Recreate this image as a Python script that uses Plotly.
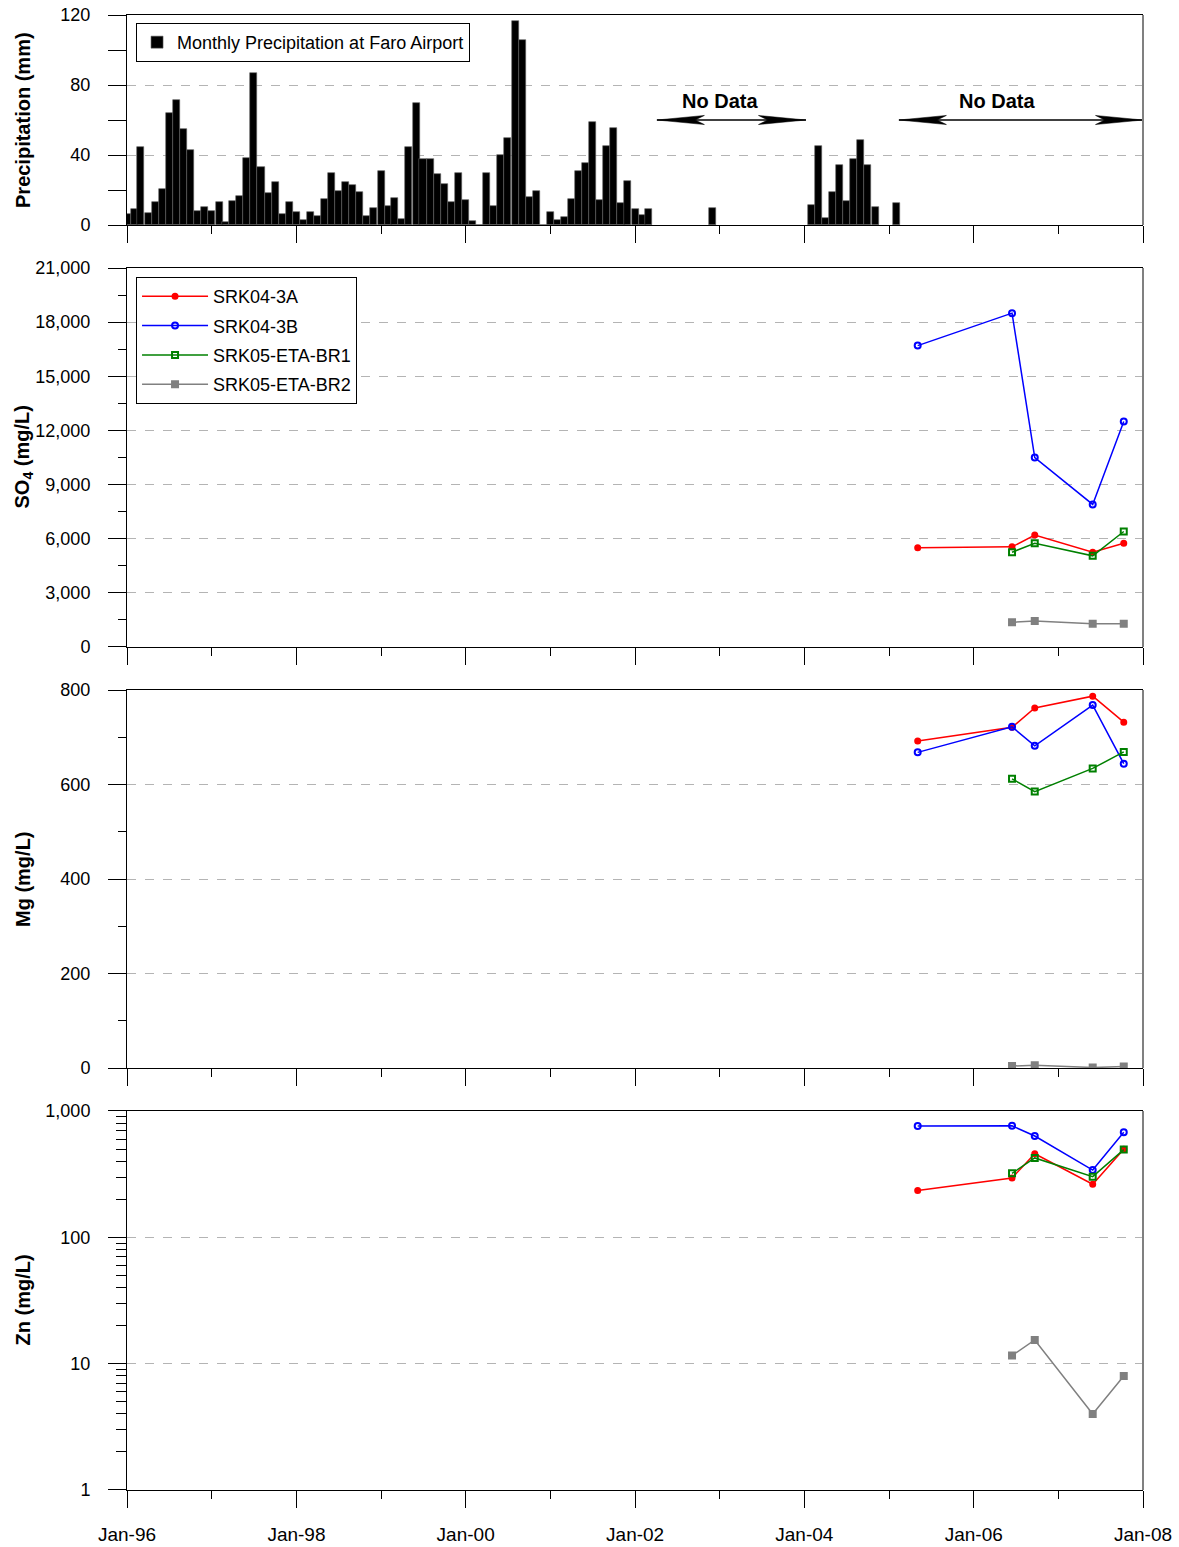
import pandas as pd
import plotly.graph_objects as go

# Monthly precipitation at Faro Airport (mm), Jan-96 onward; None = no record
precip_start = "1996-01-01"
precip_mm = [
    6.3, 9.1, 44.4, 7.0, 13.3, 20.4, 64.2, 71.2, 55.0, 42.9, 8.2, 10.5,      # 1996
    8.0, 13.0, 1.5, 13.5, 16.8, 38.5, 86.9, 33.3, 18.5, 24.6, 6.5, 13.0,     # 1997
    7.4, 2.9, 7.4, 5.1, 14.7, 29.7, 19.4, 24.4, 22.7, 18.9, 5.1, 9.9,        # 1998
    30.9, 10.7, 15.6, 3.6, 44.8, 69.9, 37.7, 37.7, 29.0, 23.4, 13.0, 29.5,   # 1999
    14.3, 2.1, 0.0, 29.5, 11.0, 40.0, 49.7, 116.8, 105.5, 16.2, 19.6, 0.0,   # 2000
    7.6, 2.9, 4.4, 14.7, 31.0, 35.4, 58.7, 14.3, 45.1, 55.2, 12.4, 25.1,     # 2001
    9.1, 5.9, 9.0, None, None, None, None, None, None, None, None, 9.5,      # 2002
    None, None, None, None, None, None, None, None, None, None, None, None,  # 2003
    None, 11.4, 45.1, 4.2, 18.9, 34.1, 13.7, 37.9, 48.8, 34.1, 10.1, None,   # 2004
    None, 12.6,                                                              # 2005
]
precip_dates = pd.date_range(precip_start, periods=len(precip_mm), freq="MS")

# "No Data" periods (start, end) and label positions
no_data_spans = [("2002-04-05", "2004-01-08"), ("2005-02-12", "2008-01-01")]
no_data_labels = ["2003-01-02", "2006-04-11"]

# groundwater sampling
dates_04 = ["2005-05-04", "2006-06-15", "2006-09-21", "2007-05-29", "2007-10-10"]
dates_05 = ["2006-06-15", "2006-09-21", "2007-05-29", "2007-10-10"]

so4_3a = [5500, 5550, 6200, 5250, 5750]
so4_3b = [16700, 18500, 10500, 7900, 12500]
so4_br1 = [5250, 5750, 5050, 6400]
so4_br2 = [1370, 1440, 1290, 1290]

mg_3a = [692, 721, 762, 787, 732]
mg_3b = [668, 722, 682, 768, 644]
mg_br1 = [612, 585, 634, 669]
mg_br2 = [4, 6, 1, 3]

zn_3a = [235, 295, 459, 263, 497]
zn_3b = [761, 764, 634, 341, 678]
zn_br1 = [321, 425, 302, 495]
zn_br2 = [11.6, 15.4, 4.0, 8.0]

FONT = "Liberation Sans, Arial, sans-serif"

series = [
    ("SRK04-3A", "#ff0000", "circle", 5, dates_04, so4_3a, mg_3a, zn_3a),
    ("SRK04-3B", "#0000ff", "circle-open", 6, dates_04, so4_3b, mg_3b, zn_3b),
    ("SRK05-ETA-BR1", "#008000", "square-open", 6, dates_05, so4_br1, mg_br1, zn_br1),
    ("SRK05-ETA-BR2", "#808080", "square", 6, dates_05, so4_br2, mg_br2, zn_br2),
]

fig = go.Figure()

fig.add_trace(go.Bar(
    x=precip_dates, y=precip_mm, width=30.4 * 86400000,
    marker=dict(color="black", line=dict(color="#606060", width=0.6)),
    name="Monthly Precipitation at Faro Airport", legend="legend",
    xaxis="x", yaxis="y"))

# No Data arrows (double headed, long thin heads like Excel)
arrow_y = 60
head_days = 205
notch_days = 165
head_half = 2.6
for (a, b) in no_data_spans:
    a = pd.Timestamp(a); b = pd.Timestamp(b)
    fig.add_trace(go.Scatter(x=[a, b], y=[arrow_y, arrow_y], mode="lines",
                             line=dict(color="black", width=1.5),
                             showlegend=False, hoverinfo="skip", xaxis="x", yaxis="y"))
    for tip, sgn in [(a, 1), (b, -1)]:
        back = tip + pd.Timedelta(days=sgn * head_days)
        notch = tip + pd.Timedelta(days=sgn * notch_days)
        fig.add_trace(go.Scatter(
            x=[tip, back, notch, back, tip],
            y=[arrow_y, arrow_y + head_half, arrow_y, arrow_y - head_half, arrow_y],
            mode="lines", fill="toself", fillcolor="black",
            line=dict(color="black", width=0.5),
            showlegend=False, hoverinfo="skip", xaxis="x", yaxis="y"))

for d in no_data_labels:
    fig.add_annotation(x=d, y=arrow_y + 11, xref="x", yref="y", text="<b>No Data</b>",
                       showarrow=False, font=dict(size=20, color="black", family=FONT))

for name, color, sym, size, dts, so4, mg, zn in series:
    for vals, ax, show in [(so4, "y2", True), (mg, "y3", False), (zn, "y4", False)]:
        fig.add_trace(go.Scatter(
            x=dts, y=vals, mode="lines+markers", name=name, legendgroup=name,
            line=dict(color=color, width=1.5),
            marker=dict(color=color, symbol=sym, size=size, line=dict(color=color, width=2)),
            legend="legend2", showlegend=show,
            xaxis="x" + ax[1:], yaxis=ax))

xcommon = dict(
    type="date", range=["1996-01-01", "2008-01-01"], tick0="1996-01-01", dtick="M24",
    tickformat="%b-%y", ticks="outside", ticklen=17, tickcolor="black", tickwidth=1,
    showline=True, linecolor="black", linewidth=1, mirror=True, showgrid=False,
    zeroline=False, ticklabelstandoff=10, automargin=False, ticklabeloverflow="allow",
    tickfont=dict(size=19, color="black", family=FONT),
    minor=dict(dtick="M12", tick0="1996-01-01", ticks="outside", ticklen=8,
               tickcolor="black", showgrid=False),
)

ycommon = dict(
    ticks="outside", ticklen=18, tickcolor="black", tickwidth=1,
    showline=True, linecolor="black", linewidth=1, mirror=False,
    showgrid=True, gridcolor="#b4b4b4", griddash="dash", gridwidth=1,
    zeroline=False, ticklabelstandoff=14, automargin=False, ticklabeloverflow="allow",
    tickfont=dict(size=18, color="black", family=FONT),
)

doms = [[0.85763, 1.0], [0.57153, 0.82847], [0.28610, 0.54237], [0.0, 0.25695]]
titles = ["<b>Precipitation (mm)</b>", "<b>SO<sub>4</sub> (mg/L)</b>",
          "<b>Mg (mg/L)</b>", "<b>Zn (mg/L)</b>"]

fig.update_layout(
    width=1179, height=1547,
    margin=dict(l=127, r=36, t=15, b=57),
    paper_bgcolor="white", plot_bgcolor="white",
    font=dict(family=FONT, color="black", size=18),
    bargap=0,
    xaxis=dict(xcommon, anchor="y", showticklabels=False),
    xaxis2=dict(xcommon, anchor="y2", matches="x", showticklabels=False),
    xaxis3=dict(xcommon, anchor="y3", matches="x", showticklabels=False),
    xaxis4=dict(xcommon, anchor="y4", matches="x"),
    yaxis=dict(ycommon, domain=doms[0], anchor="x", range=[0, 120], dtick=40,
               minor=dict(dtick=20, ticks="outside", ticklen=18, tickcolor="black", showgrid=False)),
    yaxis2=dict(ycommon, domain=doms[1], anchor="x2", range=[0, 21000], dtick=3000,
                tickformat=",",
                minor=dict(dtick=1500, ticks="outside", ticklen=8, tickcolor="black", showgrid=False)),
    yaxis3=dict(ycommon, domain=doms[2], anchor="x3", range=[0, 800], dtick=200,
                minor=dict(dtick=100, ticks="outside", ticklen=8, tickcolor="black", showgrid=False)),
    yaxis4=dict(ycommon, domain=doms[3], anchor="x4", type="log", range=[0, 3],
                tickvals=[1, 10, 100, 1000], ticktext=["1", "10", "100", "1,000"],
                minor=dict(tickvals=[2, 3, 4, 5, 6, 7, 8, 9, 20, 30, 40, 50, 60, 70, 80, 90,
                                     200, 300, 400, 500, 600, 700, 800, 900],
                           ticks="outside", ticklen=10, tickcolor="black", showgrid=False)),
    legend=dict(x=0.0089, y=0.9946, xanchor="left", yanchor="top", bgcolor="white",
                bordercolor="black", borderwidth=1, font=dict(size=18, family=FONT)),
    legend2=dict(x=0.0089, y=0.8224, xanchor="left", yanchor="top", bgcolor="white",
                 bordercolor="black", borderwidth=1, font=dict(size=18, family=FONT),
                 tracegroupgap=3, itemwidth=66),
)

# y-axis titles, all aligned at the same left position
for dom, t in zip(doms, titles):
    fig.add_annotation(xref="paper", yref="paper", x=(23 - 127) / 1016.0,
                       y=(dom[0] + dom[1]) / 2, text=t, textangle=-90, showarrow=False,
                       xanchor="center", yanchor="middle",
                       font=dict(size=20, color="black", family=FONT))

# grey right-hand frame edge on each panel
for i in range(1, 5):
    sfx = "" if i == 1 else str(i)
    fig.add_shape(type="line", xref="x%s domain" % sfx, yref="y%s domain" % sfx,
                  x0=1, x1=1, y0=0, y1=1, line=dict(color="#808080", width=2))

# drop the default page margin so the figure sits at the window's corner
fig.write_html("out.html", config={"displayModeBar": False},
               post_script="document.body.style.margin='0';")
